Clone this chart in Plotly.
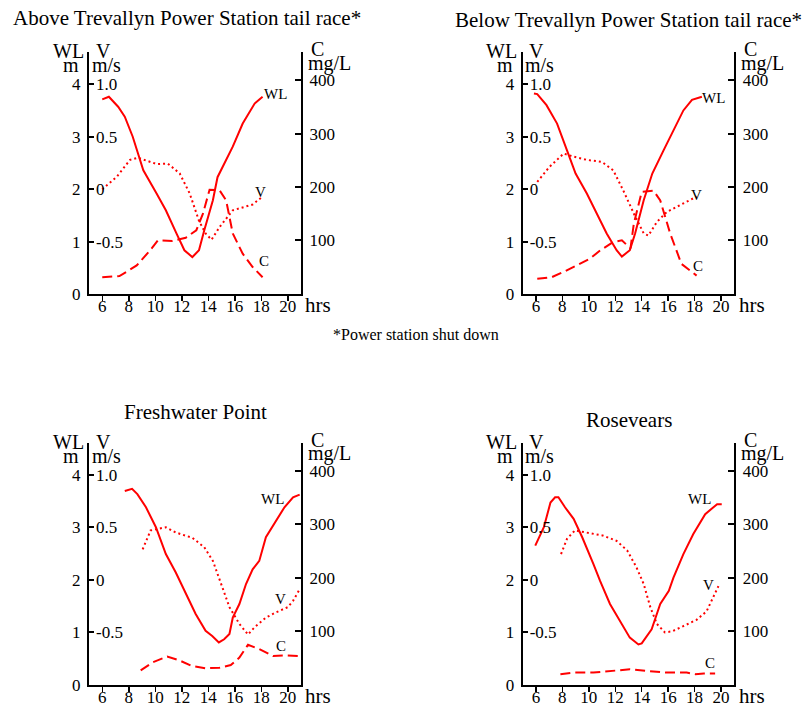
import plotly.graph_objects as go

W, H = 802, 705          # reference picture size (coordinates below are in these pixels)
FIG_H = 716              # figure height; the capture squeezes the page vertically to 705
FONT = "Liberation Serif"
RED = "#ff0000"

# ---------------- data ----------------
titles = ["Above Trevallyn Power Station tail race*",
          "Below Trevallyn Power Station tail race*",
          "Freshwater Point",
          "Rosevears"]
footnote = "*Power station shut down"

x_ticks = [6, 8, 10, 12, 14, 16, 18, 20]
x_ticktext = ["6", "8", "10", "12", "14", "16", "18", "20"]
wl_ticks = [0, 1, 2, 3, 4]
wl_ticktext = ["0", "1", "2", "3", "4"]
v_ticks = [-0.5, 0, 0.5, 1.0]
v_ticktext = ["-0.5", "0", "0.5", "1.0"]
c_ticks = [100, 200, 300, 400]
c_ticktext = ["100", "200", "300", "400"]

# Panel 1: Above Trevallyn
p1_wl_h = [6.0, 6.5, 7.2, 7.7, 8.3, 9.1, 10.1, 10.8, 11.6, 12.2, 12.8, 13.3, 13.7, 14.35, 14.7, 15.35, 15.85, 16.6, 17.5, 18.1]
p1_wl = [3.71, 3.76, 3.57, 3.38, 3.0, 2.36, 1.92, 1.6, 1.16, 0.84, 0.71, 0.84, 1.22, 1.79, 2.23, 2.55, 2.81, 3.25, 3.63, 3.76]
p1_v_h = [6.0, 7.1, 8.1, 8.7, 10.1, 10.95, 11.85, 12.6, 13.3, 13.8, 14.25, 14.85, 15.85, 16.35, 17.35, 18.1]
p1_v = [0.0, 0.12, 0.28, 0.30, 0.24, 0.245, 0.15, -0.04, -0.30, -0.42, -0.48, -0.36, -0.20, -0.18, -0.145, -0.07]
p1_c_h = [6.0, 7.3, 8.6, 9.6, 10.2, 11.3, 12.3, 13.1, 13.6, 14.1, 14.85, 15.35, 15.85, 16.6, 17.35, 18.1]
p1_c = [31, 33, 53, 81, 100, 99, 105, 119, 150, 195, 194, 175, 113, 75, 50, 31]

# Panel 2: Below Trevallyn
p2_wl_h = [5.85, 6.1, 6.8, 7.6, 8.35, 9.0, 9.85, 10.6, 11.35, 12.1, 12.5, 13.1, 13.5, 14.15, 14.8, 15.65, 16.4, 17.15, 17.8, 18.55]
p2_wl = [3.82, 3.81, 3.6, 3.25, 2.74, 2.3, 1.92, 1.54, 1.16, 0.84, 0.72, 0.84, 1.16, 1.79, 2.3, 2.74, 3.12, 3.5, 3.7, 3.76]
p2_v_h = [6.1, 7.0, 8.1, 8.85, 9.85, 11.0, 11.85, 12.6, 13.4, 14.15, 14.5, 15.15, 15.9, 16.9, 18.15]
p2_v = [0.07, 0.21, 0.34, 0.31, 0.28, 0.26, 0.18, -0.01, -0.23, -0.42, -0.44, -0.31, -0.215, -0.15, -0.07]
p2_c_h = [6.1, 7.2, 8.1, 9.1, 10.1, 10.85, 11.85, 12.5, 13.15, 13.4, 14.0, 14.9, 15.4, 16.15, 17.0, 18.15]
p2_c = [28, 31, 41, 53, 66, 81, 97, 100, 85, 131, 191, 193, 175, 113, 56, 34]

# Panel 3: Freshwater Point
p3_wl_h = [7.7, 8.25, 8.65, 9.3, 10.05, 10.8, 11.55, 12.3, 13.05, 13.8, 14.3, 14.8, 15.2, 15.6, 15.85, 16.35, 16.85, 17.35, 17.85, 18.35, 19.1, 19.75, 20.4, 20.9]
p3_wl = [3.69, 3.73, 3.63, 3.38, 3.0, 2.49, 2.14, 1.73, 1.35, 1.03, 0.93, 0.81, 0.87, 0.97, 1.28, 1.54, 1.92, 2.2, 2.36, 2.81, 3.12, 3.38, 3.57, 3.62]
p3_v_h = [9.05, 9.65, 10.8, 11.55, 12.8, 13.7, 14.35, 14.95, 15.6, 16.35, 17.0, 17.5, 18.35, 19.1, 20.0, 20.4, 20.9]
p3_v = [0.29, 0.47, 0.50, 0.45, 0.40, 0.31, 0.18, -0.04, -0.26, -0.42, -0.52, -0.45, -0.36, -0.31, -0.26, -0.20, -0.09]
p3_c_h = [8.9, 9.8, 10.9, 11.8, 12.8, 13.8, 14.85, 15.7, 16.35, 17.0, 17.85, 18.9, 19.9, 20.9]
p3_c = [26, 41, 52, 45, 34, 30, 31, 36, 50, 74, 66, 53, 54, 53]

# Panel 4: Rosevears
p4_wl_h = [5.95, 6.6, 7.1, 7.45, 7.7, 8.2, 8.85, 9.5, 10.35, 10.85, 11.6, 12.35, 13.1, 13.75, 14.0, 14.75, 15.4, 16.05, 16.4, 17.15, 17.9, 18.8, 19.3, 19.7, 20.05]
p4_wl = [2.65, 3.0, 3.47, 3.57, 3.57, 3.38, 3.16, 2.81, 2.3, 1.98, 1.54, 1.22, 0.9, 0.77, 0.79, 1.06, 1.54, 1.79, 2.04, 2.49, 2.87, 3.25, 3.35, 3.44, 3.44]
p4_v_h = [7.9, 8.35, 8.95, 9.85, 11.1, 12.1, 12.9, 13.6, 14.15, 14.65, 15.15, 15.75, 16.3, 17.15, 18.15, 18.9, 19.4, 19.8]
p4_v = [0.245, 0.39, 0.47, 0.45, 0.42, 0.37, 0.28, 0.12, -0.04, -0.26, -0.42, -0.50, -0.49, -0.44, -0.38, -0.30, -0.17, -0.06]
p4_c_h = [7.85, 8.85, 10.35, 11.85, 13.1, 14.4, 15.9, 17.4, 18.05, 18.7, 19.55]
p4_c = [19, 22, 22, 25, 28, 25, 22, 22, 19, 20, 20]

# curve label positions (hour, WL-axis units)
labels = [
    {"WL": (19.1, 3.81), "V": (17.95, 1.95), "C": (18.2, 0.63)},
    {"WL": (19.4, 3.73), "V": (18.15, 1.90), "C": (18.27, 0.54)},
    {"WL": (18.88, 3.54), "V": (19.45, 1.63), "C": (19.5, 0.74)},
    {"WL": (18.36, 3.54), "V": (19.06, 1.90), "C": (19.15, 0.42)},
]

panels = [
    (p1_wl_h, p1_wl, p1_v_h, p1_v, p1_c_h, p1_c),
    (p2_wl_h, p2_wl, p2_v_h, p2_v, p2_c_h, p2_c),
    (p3_wl_h, p3_wl, p3_v_h, p3_v, p3_c_h, p3_c),
    (p4_wl_h, p4_wl, p4_v_h, p4_v, p4_c_h, p4_c),
]

# ---------------- layout geometry (pixels) ----------------
frames = [(89, 301, 52, 294), (522.7, 734.3, 52, 294),
          (89, 301, 442, 684), (522.7, 734.3, 442, 684)]
title_pos = [(187, 18, "center"), (453, 20, "left"), (195, 411, "center"), (629, 419, "center")]

X_RANGE = [5, 21]
WL_RANGE = [0, 4.61]
V_RANGE = [(WL_RANGE[0] - 2) / 2, (WL_RANGE[1] - 2) / 2]
C_RANGE = [-1.3, 453]


def fx(p):
    return p / W


def fy(p):
    return 1 - p / H


def axname(k, kind):
    return (kind if k == 1 else f"{kind}{k}"), (f"{kind}axis" if k == 1 else f"{kind}axis{k}")


fig = go.Figure()
layout = dict(width=W, height=FIG_H, margin=dict(l=0, r=0, t=0, b=0),
              paper_bgcolor="white", plot_bgcolor="rgba(0,0,0,0)",
              showlegend=False, font=dict(family=FONT, color="black"))
annotations = []

for i, (wl_h, wl, v_h, v, c_h, c) in enumerate(panels):
    L, R, T, B = frames[i]
    xn, xk = axname(2 * i + 1, "x")
    xln, xlk = axname(2 * i + 2, "x")
    ywl, kwl = axname(3 * i + 1, "y")
    yv, kv = axname(3 * i + 2, "y")
    yc, kc = axname(3 * i + 3, "y")

    # main x axis: line + outside ticks
    layout[xk] = dict(domain=[fx(L), fx(R)], range=X_RANGE, anchor=ywl,
                      showline=True, linewidth=2, linecolor="black",
                      ticks="outside", ticklen=5, tickwidth=1.5, tickcolor="black",
                      tickvals=x_ticks, showticklabels=False,
                      showgrid=False, zeroline=False, fixedrange=True)
    # label x axis: tick labels only, close to the line
    layout[xlk] = dict(overlaying=xn, range=X_RANGE, anchor=ywl, side="bottom",
                       showline=False, ticks="", tickvals=x_ticks, ticktext=x_ticktext,
                       tickfont=dict(size=17, family=FONT),
                       showgrid=False, zeroline=False, fixedrange=True)
    layout[kwl] = dict(domain=[fy(B), fy(T)], range=WL_RANGE, anchor=xn, side="left",
                       showline=True, linewidth=2, linecolor="black",
                       ticks="inside", ticklen=5, tickwidth=2, tickcolor="black",
                       tickvals=wl_ticks, ticktext=wl_ticktext,
                       tickfont=dict(size=17, family=FONT), ticklabelstandoff=3,
                       showgrid=False, zeroline=False, fixedrange=True)
    layout[kv] = dict(range=V_RANGE, overlaying=ywl, anchor="free", position=fx(L),
                      side="right", showline=False, ticks="",
                      tickvals=v_ticks, ticktext=v_ticktext,
                      tickfont=dict(size=17, family=FONT), ticklabelstandoff=6,
                      showgrid=False, zeroline=False, fixedrange=True)
    layout[kc] = dict(range=C_RANGE, overlaying=ywl, anchor=xn, side="right",
                      showline=True, linewidth=2, linecolor="black",
                      ticks="inside", ticklen=6, tickwidth=2, tickcolor="black",
                      tickvals=c_ticks, ticktext=c_ticktext,
                      tickfont=dict(size=17, family=FONT), ticklabelstandoff=3,
                      showgrid=False, zeroline=False, fixedrange=True)

    # invisible anchor trace so the label x-axis is drawn
    fig.add_trace(go.Scatter(x=[X_RANGE[0]], y=[WL_RANGE[0]], xaxis=xln, yaxis=ywl,
                             mode="markers", marker=dict(opacity=0), hoverinfo="skip"))

    fig.add_trace(go.Scatter(x=wl_h, y=wl, xaxis=xn, yaxis=ywl, mode="lines",
                             line=dict(color=RED, width=2), hoverinfo="skip"))
    fig.add_trace(go.Scatter(x=v_h, y=v, xaxis=xn, yaxis=yv, mode="lines",
                             line=dict(color=RED, width=2, dash="2px,3px"), hoverinfo="skip"))
    fig.add_trace(go.Scatter(x=c_h, y=c, xaxis=xn, yaxis=yc, mode="lines",
                             line=dict(color=RED, width=2, dash="10px,5px"), hoverinfo="skip"))

    # curve labels
    for name, (hx, hy) in labels[i].items():
        annotations.append(dict(x=hx, y=hy, xref=xn, yref=ywl, text=name, showarrow=False,
                                font=dict(size=15, family=FONT), xanchor="center", yanchor="middle"))

    # axis unit labels
    dx, dy = L - 89, B - 294
    for txt, ax, ay, sz in [("WL", 68, 51, 20), ("m", 71, 65, 20), ("V", 103, 51, 20),
                            ("m/s", 106, 65, 20), ("C", 317, 49, 20), ("mg/L", 329, 63, 20),
                            ("hrs", 318, 305, 21)]:
        annotations.append(dict(x=fx(ax + dx), y=fy(ay + dy), xref="paper", yref="paper",
                                text=txt, showarrow=False, font=dict(size=sz, family=FONT),
                                xanchor="center", yanchor="middle"))

    tx, ty, anc = title_pos[i]
    annotations.append(dict(x=fx(tx), y=fy(ty), xref="paper", yref="paper", text=titles[i],
                            showarrow=False, font=dict(size=21, family=FONT),
                            xanchor=anc, yanchor="middle"))

annotations.append(dict(x=fx(416), y=fy(334), xref="paper", yref="paper", text=footnote,
                        showarrow=False, font=dict(size=16, family=FONT),
                        xanchor="center", yanchor="middle"))

layout["annotations"] = annotations
fig.update_layout(**layout)
# remove the default 8px page margin so the figure starts at the window corner
fig.write_html("out.html", config={"displayModeBar": False, "staticPlot": True},
               post_script="document.body.style.margin='0';document.body.style.overflow='hidden';")
